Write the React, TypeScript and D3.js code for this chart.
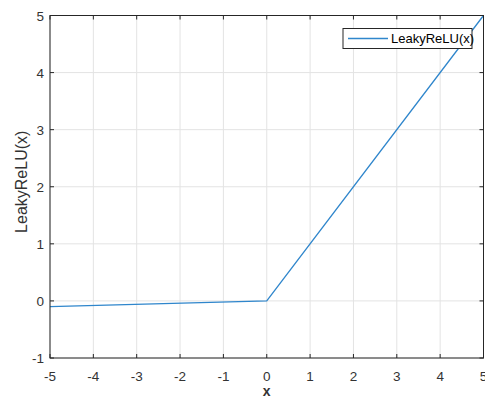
import React, { useEffect, useRef } from 'react';
import * as d3 from 'd3';

// LeakyReLU(x), slope 0.02 for x < 0
const xValues = [-5, 0, 5];
const yValues = [-0.1, 0, 5];
const xTicks = [-5, -4, -3, -2, -1, 0, 1, 2, 3, 4, 5];
const yTicks = [-1, 0, 1, 2, 3, 4, 5];
const seriesName = 'LeakyReLU(x)';

const W = 485, H = 398;
const margin = { top: 15.5, right: 1.5, bottom: 40, left: 50 };

export default function App() {
  const ref = useRef<SVGSVGElement>(null);

  useEffect(() => {
    const svg = d3.select(ref.current);
    svg.selectAll('*').remove();

    const width = W - margin.left - margin.right;
    const height = H - margin.top - margin.bottom;
    const axisColor = '#262626';
    const lineColor = '#2f86cc';
    const font = 'Liberation Sans, Arial, sans-serif';

    const x = d3.scaleLinear().domain([-5, 5]).range([0, width]);
    const y = d3.scaleLinear().domain([-1, 5]).range([height, 0]);

    const g = svg.append('g').attr('transform', `translate(${margin.left},${margin.top})`);

    // grid
    g.selectAll('.gx').data(xTicks).enter().append('line')
      .attr('x1', d => x(d)).attr('x2', d => x(d))
      .attr('y1', 0).attr('y2', height)
      .attr('stroke', '#e3e3e3').attr('stroke-width', 1);
    g.selectAll('.gy').data(yTicks).enter().append('line')
      .attr('y1', d => y(d)).attr('y2', d => y(d))
      .attr('x1', 0).attr('x2', width)
      .attr('stroke', '#e3e3e3').attr('stroke-width', 1);

    // line
    const pts = xValues.map((v, i) => [v, yValues[i]] as [number, number]);
    g.append('path')
      .datum(pts)
      .attr('fill', 'none')
      .attr('stroke', lineColor)
      .attr('stroke-width', 1.3)
      .attr('d', d3.line<[number, number]>().x(d => x(d[0])).y(d => y(d[1])));

    // box
    g.append('rect')
      .attr('x', 0).attr('y', 0).attr('width', width).attr('height', height)
      .attr('fill', 'none').attr('stroke', axisColor).attr('stroke-width', 1);

    // ticks on all four sides
    const tl = 4;
    xTicks.forEach(t => {
      g.append('line').attr('x1', x(t)).attr('x2', x(t)).attr('y1', height).attr('y2', height - tl).attr('stroke', axisColor);
      g.append('line').attr('x1', x(t)).attr('x2', x(t)).attr('y1', 0).attr('y2', tl).attr('stroke', axisColor);
    });
    yTicks.forEach(t => {
      g.append('line').attr('y1', y(t)).attr('y2', y(t)).attr('x1', 0).attr('x2', tl).attr('stroke', axisColor);
      g.append('line').attr('y1', y(t)).attr('y2', y(t)).attr('x1', width).attr('x2', width - tl).attr('stroke', axisColor);
    });

    // tick labels
    g.selectAll('.xl').data(xTicks).enter().append('text')
      .attr('x', d => x(d)).attr('y', height + 23)
      .attr('text-anchor', 'middle')
      .attr('font-family', font).attr('font-size', 13.5).attr('fill', '#333')
      .text(d => String(d));
    g.selectAll('.yl').data(yTicks).enter().append('text')
      .attr('x', -6).attr('y', d => y(d) + 5)
      .attr('text-anchor', 'end')
      .attr('font-family', font).attr('font-size', 13.5).attr('fill', '#333')
      .text(d => String(d));

    // axis labels
    g.append('text')
      .attr('x', width / 2).attr('y', height + 37.5)
      .attr('text-anchor', 'middle')
      .attr('font-family', font).attr('font-size', 14).attr('font-weight', 'bold').attr('fill', '#333')
      .text('x');
    g.append('text')
      .attr('transform', `translate(${-23},${height / 2 - 5}) rotate(-90)`)
      .attr('text-anchor', 'middle')
      .attr('font-family', font).attr('font-size', 16).attr('fill', '#333')
      .text('LeakyReLU(x)');

    // legend
    const lx = 293, ly = 13, lw = 129, lh = 20;
    const leg = g.append('g').attr('transform', `translate(${lx},${ly})`);
    leg.append('rect').attr('width', lw).attr('height', lh)
      .attr('fill', '#fff').attr('stroke', axisColor).attr('stroke-width', 1);
    leg.append('line').attr('x1', 5).attr('x2', 45).attr('y1', lh / 2).attr('y2', lh / 2)
      .attr('stroke', lineColor).attr('stroke-width', 1.3);
    leg.append('text').attr('x', 48).attr('y', lh / 2 + 4.5)
      .attr('font-family', font).attr('font-size', 13).attr('fill', '#000')
      .text(seriesName);
  }, []);

  return (
    <svg ref={ref} width={W} height={H} style={{ position: 'absolute', left: 0, top: 0 }} />
  );
}
